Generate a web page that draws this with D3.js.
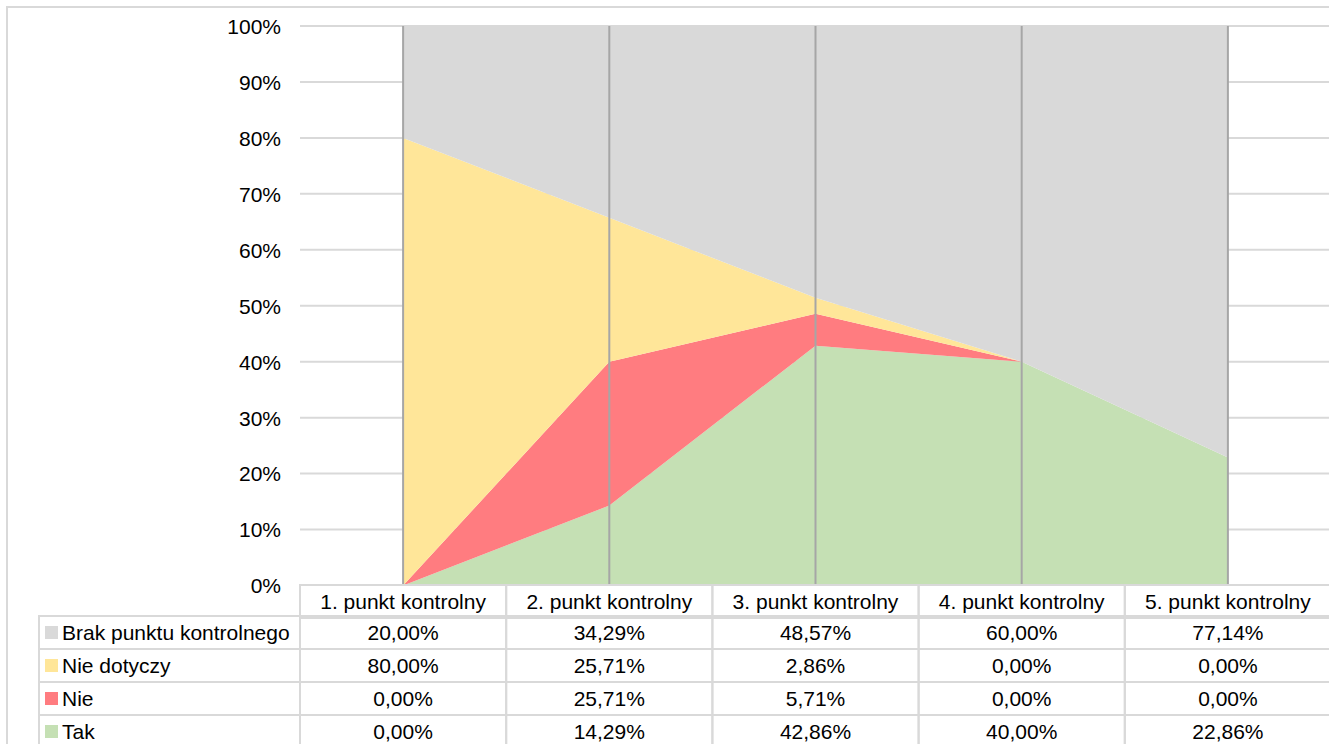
<!DOCTYPE html>
<html>
<head>
<meta charset="utf-8">
<script src="https://cdn.jsdelivr.net/npm/d3@7"></script>
<style>
  html, body { margin: 0; padding: 0; background: #fff; }
  svg { display: block; }
  text { font-family: "Liberation Sans", Arial, sans-serif; fill: #000; }
</style>
</head>
<body>
<svg id="chart" width="1329" height="744"></svg>
<script>
const categories = ["1. punkt kontrolny", "2. punkt kontrolny", "3. punkt kontrolny", "4. punkt kontrolny", "5. punkt kontrolny"];
const seriesNames = ["Tak", "Nie", "Nie dotyczy", "Brak punktu kontrolnego"]; // stack order bottom -> top
const tak = [0.00, 14.29, 42.86, 40.00, 22.86];
const nie = [0.00, 25.71, 5.71, 0.00, 0.00];
const nieDotyczy = [80.00, 25.71, 2.86, 0.00, 0.00];
const brak = [20.00, 34.29, 48.57, 60.00, 77.14];
const seriesColors = ["#c5e0b4", "#ff7c80", "#ffe699", "#d9d9d9"];
const yTicks = [0, 10, 20, 30, 40, 50, 60, 70, 80, 90, 100];
const tableOrder = ["Brak punktu kontrolnego", "Nie dotyczy", "Nie", "Tak"];

const valuesByName = {
  "Tak": tak, "Nie": nie, "Nie dotyczy": nieDotyczy, "Brak punktu kontrolnego": brak
};
const colorByName = {};
seriesNames.forEach((n, i) => colorByName[n] = seriesColors[i]);

const rows = categories.map((c, i) => {
  const o = { cat: c };
  seriesNames.forEach(n => o[n] = valuesByName[n][i]);
  return o;
});

const svg = d3.select("#chart");
const W = 1329, H = 744;
const plotLeft = 300, plotRight = 1331, plotTop = 26, plotBottom = 585.5;
const gridCol = "#d9d9d9";
const fontSize = 21;

// outer chart border
svg.append("rect").attr("x", 7).attr("y", 7).attr("width", W + 20).attr("height", H + 20)
  .attr("fill", "none").attr("stroke", gridCol).attr("stroke-width", 2);

const x = d3.scaleBand().domain(categories).range([plotLeft, plotRight]).paddingInner(0).paddingOuter(0);
const xc = c => x(c) + x.bandwidth() / 2;
const y = d3.scaleLinear().domain([0, 100]).range([plotBottom, plotTop]);

// gridlines
svg.append("g").selectAll("line").data(yTicks.filter(t => t > 0)).join("line")
  .attr("x1", plotLeft).attr("x2", W)
  .attr("y1", d => y(d)).attr("y2", d => y(d))
  .attr("stroke", gridCol).attr("stroke-width", 2);

// y axis labels
const yAxis = d3.axisLeft(y).tickValues(yTicks).tickFormat(d => d + "%").tickSize(0).tickPadding(0);
const gy = svg.append("g").attr("transform", `translate(281,0)`).call(yAxis);
gy.select(".domain").remove();
gy.selectAll("text").attr("font-size", fontSize).attr("font-family", "Liberation Sans, Arial, sans-serif")
  .attr("fill", "#000").attr("dy", "0.35em");

// stacked areas
const stack = d3.stack().keys(seriesNames);
const stacked = stack(rows);
const area = d3.area()
  .x(d => xc(d.data.cat))
  .y0(d => y(d[0]))
  .y1(d => y(d[1]));
svg.append("g").selectAll("path").data(stacked).join("path")
  .attr("d", area)
  .attr("fill", d => colorByName[d.key]);

// drop lines
svg.append("g").selectAll("line").data(categories).join("line")
  .attr("x1", d => xc(d)).attr("x2", d => xc(d))
  .attr("y1", plotTop).attr("y2", plotBottom)
  .attr("stroke", "#a6a6a6").attr("stroke-width", 2);

// data table
const headerTop = 585, rowH = 33, labelLeft = 39;
const tbl = svg.append("g");
const fmt = v => d3.format(".2f")(v).replace(".", ",") + "%";

// header cells
tbl.selectAll("rect.hdr").data(categories).join("rect").attr("class", "hdr")
  .attr("x", d => x(d)).attr("y", headerTop).attr("width", x.bandwidth()).attr("height", rowH)
  .attr("fill", "none").attr("stroke", gridCol).attr("stroke-width", 2);
tbl.selectAll("text.hdr").data(categories).join("text").attr("class", "hdr")
  .attr("x", d => xc(d)).attr("y", headerTop + rowH / 2).attr("dy", "0.35em")
  .attr("text-anchor", "middle").attr("font-size", fontSize).text(d => d);

tableOrder.forEach((name, r) => {
  const top = headerTop + rowH * (r + 1) - 2;
  const g = tbl.append("g");
  g.append("rect").attr("x", labelLeft).attr("y", top).attr("width", plotLeft - labelLeft).attr("height", rowH)
    .attr("fill", "none").attr("stroke", gridCol).attr("stroke-width", 2);
  g.append("rect").attr("x", 45).attr("y", top + rowH / 2 - 6.5).attr("width", 13).attr("height", 13)
    .attr("fill", colorByName[name]);
  g.append("text").attr("x", 62).attr("y", top + rowH / 2).attr("dy", "0.35em")
    .attr("font-size", fontSize).text(name);
  g.selectAll("rect.cell").data(categories).join("rect").attr("class", "cell")
    .attr("x", d => x(d)).attr("y", top).attr("width", x.bandwidth()).attr("height", rowH)
    .attr("fill", "none").attr("stroke", gridCol).attr("stroke-width", 2);
  g.selectAll("text.cell").data(categories).join("text").attr("class", "cell")
    .attr("x", d => xc(d)).attr("y", top + rowH / 2).attr("dy", "0.35em")
    .attr("text-anchor", "middle").attr("font-size", fontSize)
    .text((d, i) => fmt(valuesByName[name][i]));
});
</script>
</body>
</html>
